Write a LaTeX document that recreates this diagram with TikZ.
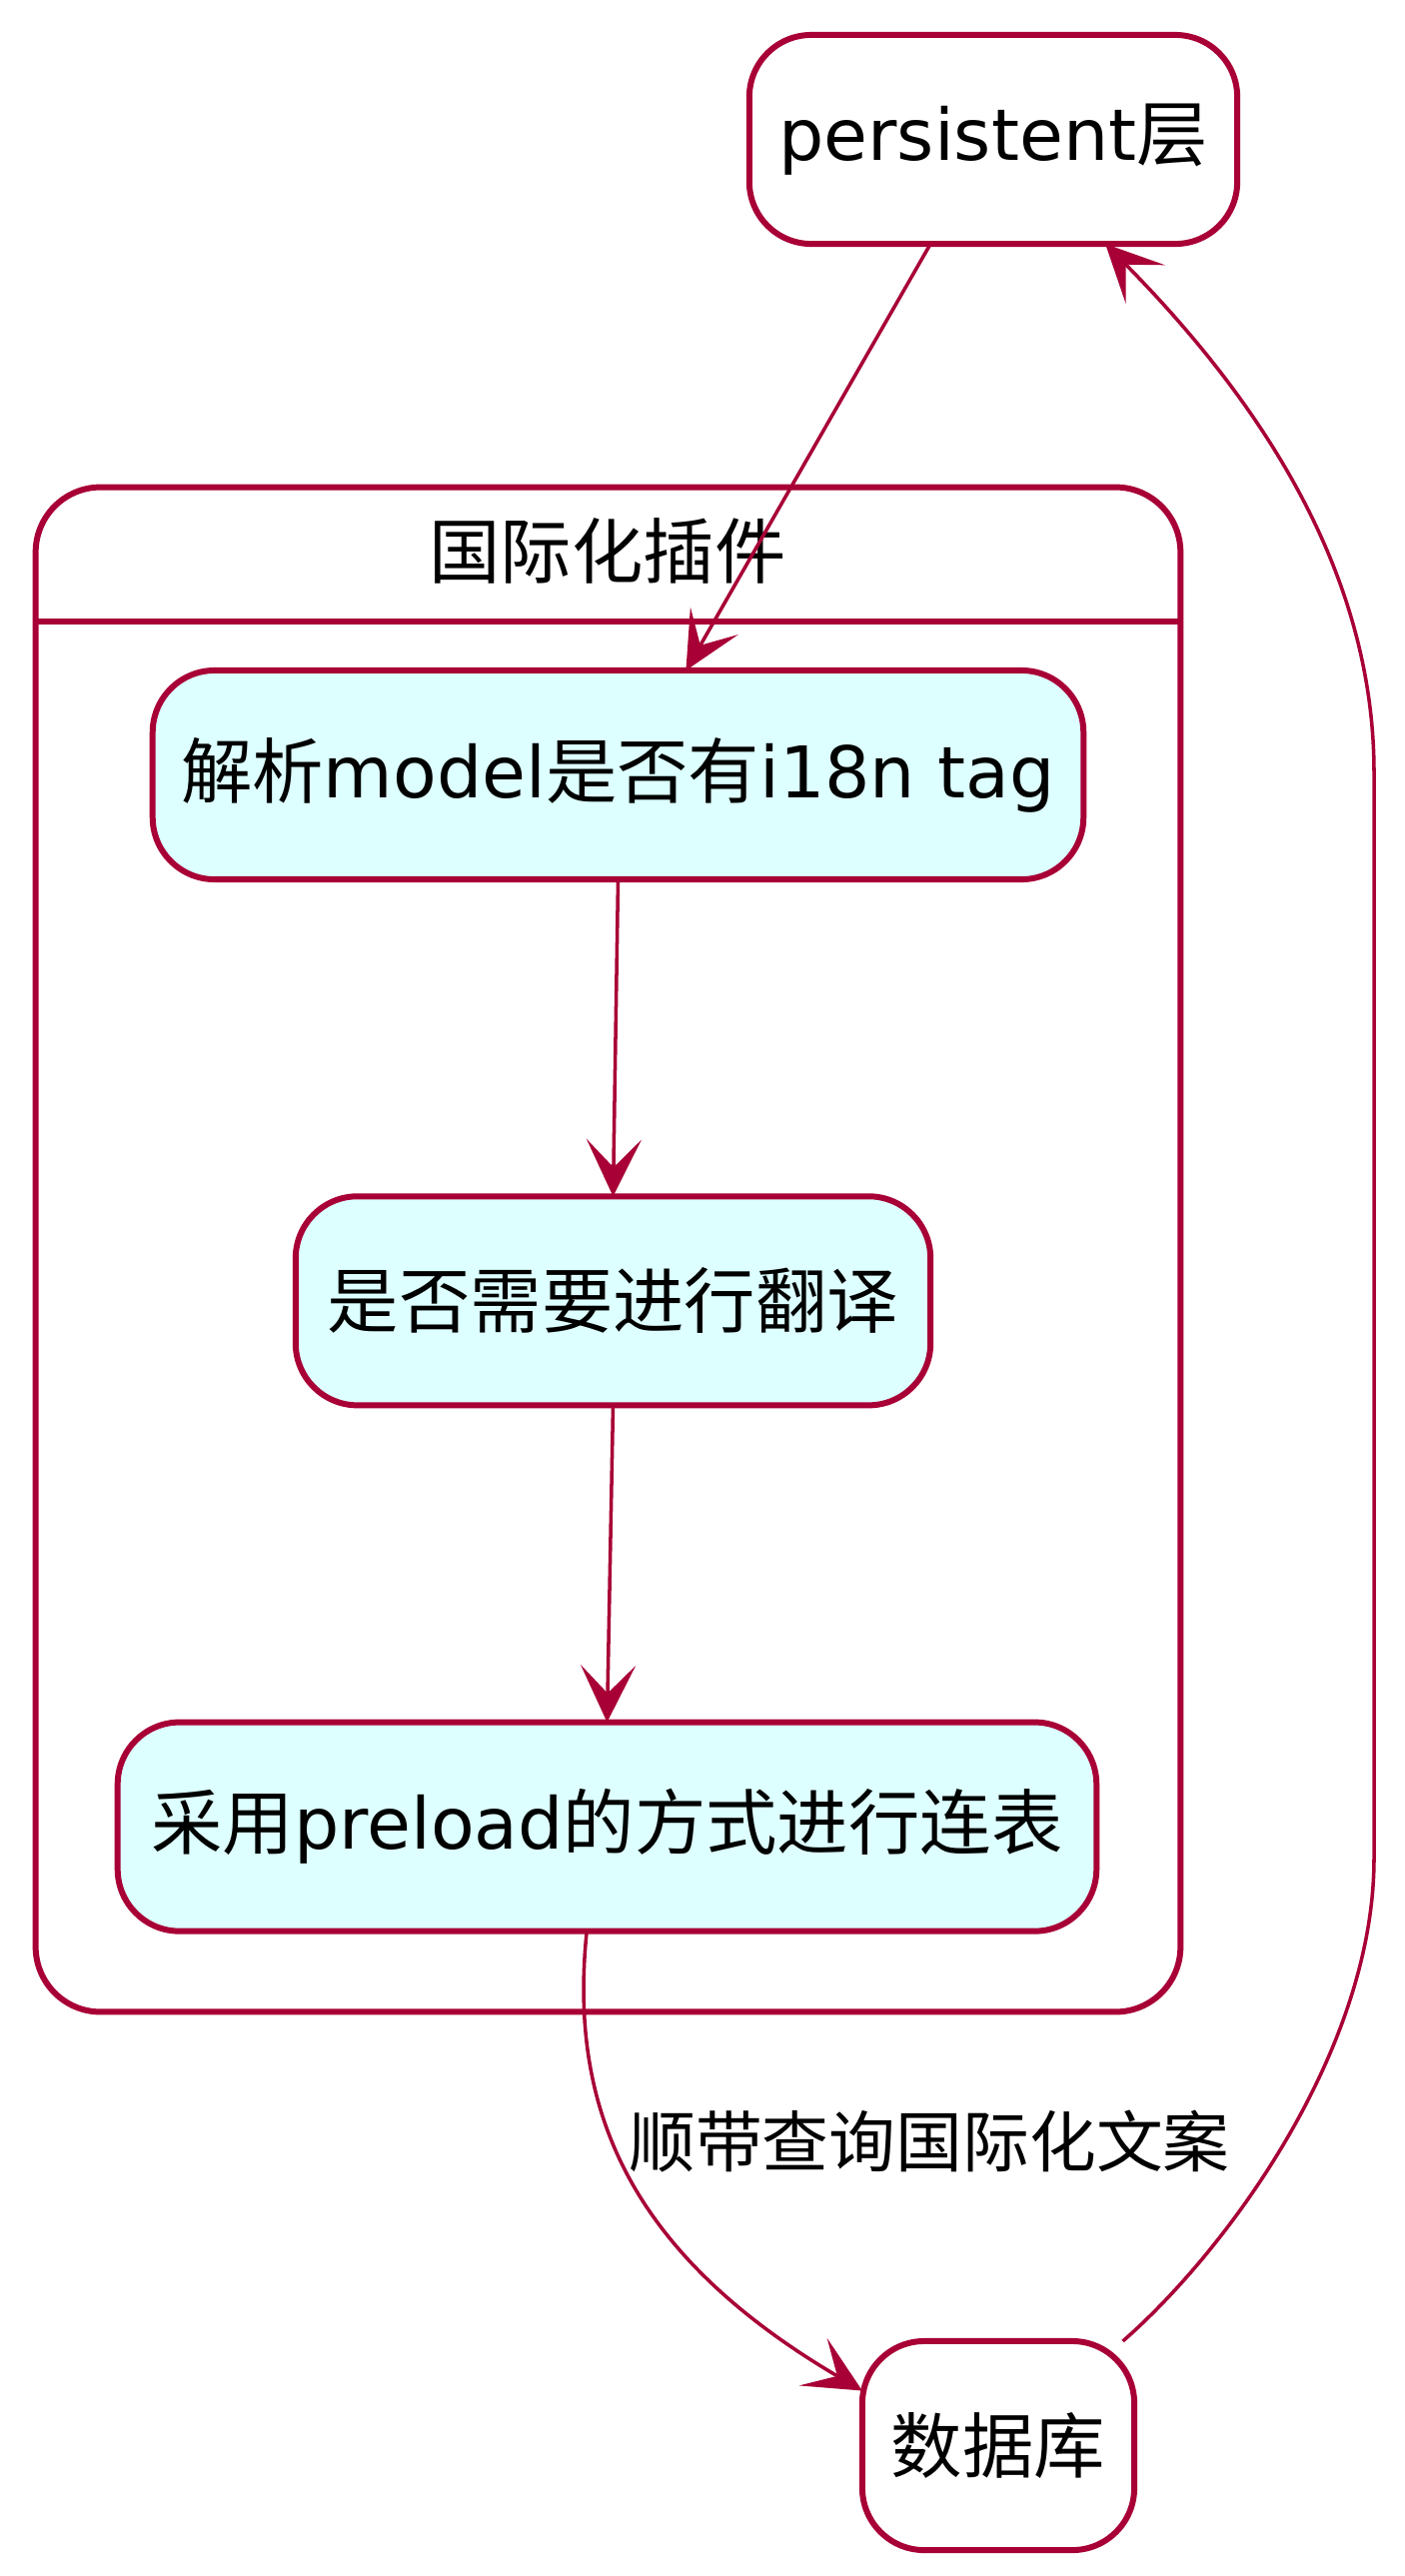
\documentclass[tikz,border=0pt]{standalone}
\usepackage{fontspec}
\setmainfont{DejaVu Sans}
\newfontfamily\cjk{Noto Sans CJK SC}
\newcommand\zh[1]{{\cjk #1}}
\usepackage{tikz}
\usetikzlibrary{arrows.meta, positioning, calc}
\definecolor{umlred}{HTML}{A80036}
\definecolor{umlcyan}{HTML}{DDFFFF}
\newcommand\umlfont{\fontsize{20.3}{24}\selectfont}
\newcommand\edgefont{\fontsize{19}{23}\selectfont}

\begin{document}
\begin{tikzpicture}[
    x=0.01cm, y=-0.01cm,
    box/.style={draw=umlred, line width=1.7pt, rounded corners=0.62cm, fill=white, minimum height=2.09cm, inner sep=0pt, outer sep=0pt, font=\umlfont},
    cyanbox/.style={box, fill=umlcyan},
    cluster/.style={draw=umlred, line width=1.7pt, rounded corners=0.65cm, inner sep=0pt},
    arrow/.style={-{Stealth[length=0.57cm, width=0.55cm, inset=0.28cm]}, draw=umlred, line width=1pt}
]
    \useasboundingbox (0,0) rectangle (1406,2578);

    % plugin cluster
    \node[cluster, minimum width=11.45cm, minimum height=15.25cm] (plugin) at (608.5,1250.5) {};
    \draw[umlred, line width=1.7pt] ($(plugin.north west)+(0,137)$) -- ($(plugin.north east)+(0,137)$);
    \node[font=\umlfont] (plugintitle) at (608,551) {\zh{国际化插件}};

    % states
    \node[box, minimum width=4.88cm] (persist) at (994,139.5) {persistent\zh{层}};
    \node[cyanbox, minimum width=9.31cm] (parse) at (618.5,775.5) {\zh{解析}model\zh{是否有}i18n tag};
    \node[cyanbox, minimum width=6.35cm, below=3.17cm of parse, xshift=-0.05cm] (need) {\zh{是否需要进行翻译}};
    \node[cyanbox, minimum width=9.79cm, below=3.17cm of need, xshift=-0.06cm] (preload) {\zh{采用}preload\zh{的方式进行连表}};
    \node[box, minimum width=2.72cm] (db) at (999,2447.5) {\zh{数据库}};

    % transitions
    \draw[arrow] (persist.239) -- (parse.57.9);
    \draw[arrow] (parse.south) -- (need.north);
    \draw[arrow] (need.south) -- (preload.north);
    \draw[arrow] (preload.259) .. controls (570,2100) and (620,2250) .. (db.158);
    \node[font=\edgefont] (querylabel) at (930,2143) {\zh{顺带查询国际化文案}};
    \draw[arrow] (db.40) .. controls (1230,2250) and (1375,2050) .. (1375,1860)
        -- (1375,773) .. controls (1375,600) and (1290,430) .. (persist.317);
\end{tikzpicture}
\end{document}
